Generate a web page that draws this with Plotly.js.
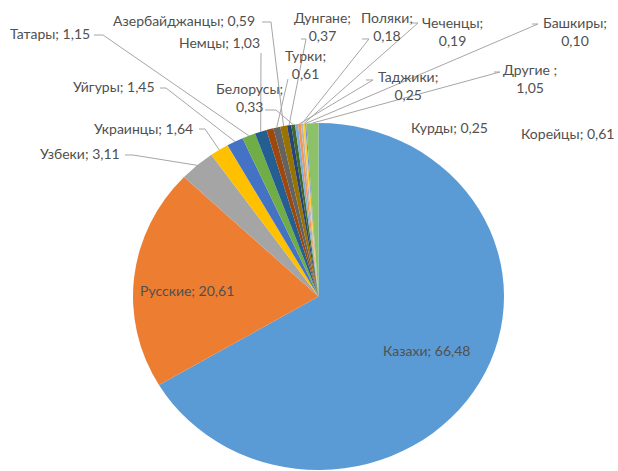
<!DOCTYPE html>
<html>
<head>
<meta charset="utf-8">
<script src="https://cdn.plot.ly/plotly-3.0.1.min.js"></script>
<style>
html,body{margin:0;padding:0;background:#fff;overflow:hidden;}
#chart{width:618px;height:471px;}
</style>
</head>
<body>
<div id="chart"></div>
<script>
// ---- data ----
const categories = ['Казахи','Русские','Узбеки','Украинцы','Уйгуры','Татары','Немцы','Корейцы','Турки','Азербайджанцы','Дунгане','Белорусы','Курды','Таджики','Поляки','Чеченцы','Башкиры','Другие '];
const values = [66.48,20.61,3.11,1.64,1.45,1.15,1.03,0.61,0.61,0.59,0.37,0.33,0.25,0.25,0.18,0.19,0.10,1.05];
const colors = ['#5B9BD5','#ED7D31','#A5A5A5','#FFC000','#4472C4','#70AD47','#255E91','#9E480E','#636363','#997300','#264478','#43682B','#7CAFDD','#F1975A','#B7B7B7','#FFCD33','#698ED0','#8CC168'];

// ---- label layout (pixel positions of label centres, two-line flag) ----
const W = 618, H = 471;
const labelPos = [
  [427,350,false],[187,290,false],[80,154,false],[143,129,false],[114,87,false],[50,34,false],
  [219,43,false],[567,134,false],[305,65,true],[184,21,false],[323,27,true],[249,98,true],
  [449,128,false],[408,86,true],[387,27,true],[452,32,true],[575,32,true],[530,79,true]
];
// leader line start points (pixels) near each label; null = no leader line
const leaderStart = [
  null,null,[[125,155],[133,155]],[[199,129],[205,129]],[[160,88],[166,88]],[[94,35],[103,35]],
  [[261,53]],null,[[288,79]],[[262,22],[271,22]],[[301,39],[306,39]],[[265,110],[276,110]],
  null,[[366,80],[373,80]],[[362,39],[369,39]],[[411,23],[418,23]],[[532,24],[538,24]],[[494,72],[500,72]]
];

// pie geometry
const cx = 318.5, cy = 296.5, ry = 173.5, rx = 185.5;
const domY = [1 - (cy + ry) / H, 1 - (cy - ry) / H];
const domX = [cx / W - 0.31, cx / W + 0.31];

const fmt = v => v.toFixed(2).replace('.', ',');
const total = values.reduce((a, b) => a + b, 0);

const annotations = [];
const shapes = [];
let cum = 0;
categories.forEach((c, i) => {
  const mid = (cum + values[i] / 2) / total * 2 * Math.PI;
  cum += values[i];
  const [lx, ly, two] = labelPos[i];
  const txt = c + ';' + (two ? '<br>' : ' ') + fmt(values[i]);
  annotations.push({
    xref: 'paper', yref: 'paper', x: lx / W, y: 1 - ly / H,
    xanchor: 'center', yanchor: 'middle', align: 'center', showarrow: false,
    text: txt, font: {family: 'Lato, "Open Sans", sans-serif', size: 14, color: '#505050'}
  });
  if (leaderStart[i]) {
    const ex = cx + rx * Math.sin(mid), ey = cy - ry * Math.cos(mid);
    const pts = leaderStart[i].concat([[ex, ey]]);
    const path = pts.map((p, k) => (k ? 'L' : 'M') + (p[0] / W).toFixed(5) + ',' + (1 - p[1] / H).toFixed(5)).join(' ');
    shapes.push({type: 'path', xref: 'paper', yref: 'paper', path: path,
      line: {color: '#A6A6A6', width: 1}});
  }
});

const trace = {
  type: 'pie', labels: categories, values: values, sort: false,
  direction: 'clockwise', rotation: 0, textinfo: 'none', hoverinfo: 'none',
  marker: {colors: colors, line: {width: 0}},
  domain: {x: domX, y: domY}, showlegend: false
};

const layout = {
  width: W, height: H, margin: {l: 0, r: 0, t: 0, b: 0},
  paper_bgcolor: '#ffffff', showlegend: false,
  annotations: annotations, shapes: shapes
};

Plotly.newPlot('chart', [trace], layout, {displayModeBar: false, staticPlot: true}).then(gd => {
  const pl = gd.querySelector('.pielayer');
  if (pl) pl.setAttribute('transform', 'translate(' + cx + ',0) scale(' + (rx / ry) + ',1) translate(' + (-cx) + ',0)');
});
</script>
</body>
</html>
